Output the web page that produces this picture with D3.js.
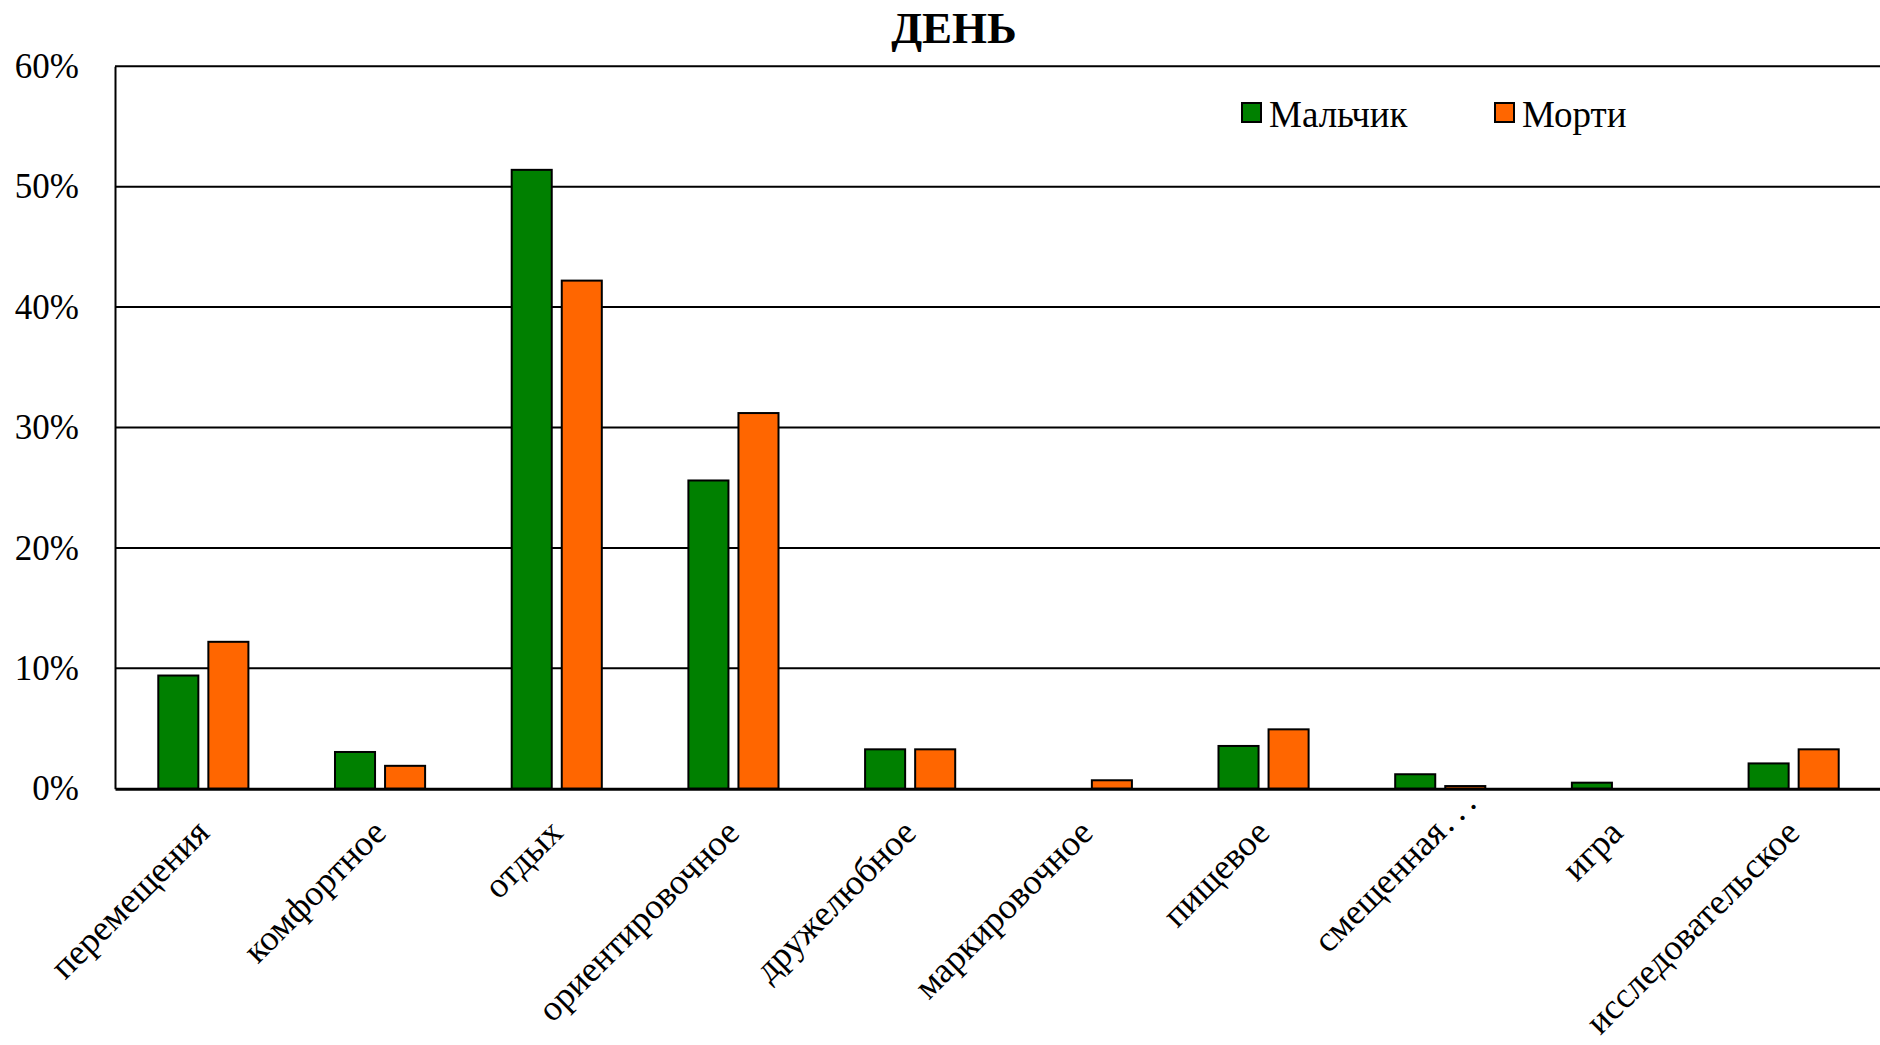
<!DOCTYPE html>
<html>
<head>
<meta charset="utf-8">
<script src="https://cdn.jsdelivr.net/npm/d3@7"></script>
<style>
  html, body { margin: 0; padding: 0; background: #fff; }
  svg { display: block; }
  text { font-family: "Liberation Serif", "Times New Roman", serif; fill: #000; }
</style>
</head>
<body>
<svg id="chart" width="1880" height="1045"></svg>
<script>
// Behaviour categories (daytime observations); a trailing "…" marks a shortened name
const categories = [
  "перемещения", "комфортное", "отдых", "ориентировочное", "дружелюбное",
  "маркировочное", "пищевое", "смещенная…", "игра", "исследовательское"
];
const seriesNames = ["Мальчик", "Морти"];
// Share of time per category, %
const boyValues   = [9.4, 3.05, 51.4, 25.6, 3.27, 0, 3.55, 1.2, 0.5, 2.1];
const mortyValues = [12.2, 1.9, 42.2, 31.2, 3.27, 0.7, 4.93, 0.22, 0, 3.27];
const seriesColors = ["#008000", "#FF6600"];
const yTicks = [0, 10, 20, 30, 40, 50, 60];
const title = "ДЕНЬ";

const svg = d3.select("#chart");
const plot = { left: 115, right: 1882, top: 66.3, bottom: 788.7 };

const x0 = d3.scaleBand().domain(categories).range([plot.left, plot.right])
  .paddingInner(0.49).paddingOuter(0.245);
const x1 = d3.scaleBand().domain(seriesNames).range([0, x0.bandwidth()])
  .paddingInner(0.2).paddingOuter(0);
const y = d3.scaleLinear().domain([0, 60]).range([plot.bottom, plot.top]);

// horizontal gridlines
svg.append("g").selectAll("line").data(yTicks.filter(t => t > 0)).join("line")
  .attr("x1", plot.left).attr("x2", plot.right)
  .attr("y1", d => y(d)).attr("y2", d => y(d))
  .attr("stroke", "#000").attr("stroke-width", 2);

// y axis
const yAxis = d3.axisLeft(y).tickValues(yTicks).tickSize(0).tickPadding(36)
  .tickFormat(d => d + "%");
const gy = svg.append("g").attr("transform", `translate(${plot.left},0)`).call(yAxis);
gy.select(".domain").attr("stroke", "#000").attr("stroke-width", 2);
gy.selectAll("text").attr("font-size", 35)
  .style("font-family", '"Liberation Serif", serif').attr("fill", "#000");

// bars
const rows = categories.map((c, i) => ({ cat: c, vals: [boyValues[i], mortyValues[i]] }));
const groups = svg.append("g").selectAll("g").data(rows).join("g")
  .attr("transform", d => `translate(${x0(d.cat)},0)`);
groups.selectAll("rect")
  .data(d => d.vals.map((v, k) => ({ name: seriesNames[k], v, k })).filter(e => e.v > 0))
  .join("rect")
  .attr("x", d => x1(d.name))
  .attr("width", x1.bandwidth())
  .attr("y", d => y(d.v))
  .attr("height", d => y(0) - y(d.v))
  .attr("fill", d => seriesColors[d.k])
  .attr("stroke", "#000").attr("stroke-width", 2);

// x axis with slanted category labels
const xAxis = d3.axisBottom(x0).tickSize(0).tickPadding(0);
const gx = svg.append("g").attr("transform", `translate(0,${plot.bottom})`).call(xAxis);
gx.select(".domain").attr("stroke", "#000").attr("stroke-width", 3);
gx.selectAll("text")
  .attr("font-size", 36)
  .style("font-family", '"Liberation Serif", serif')
  .attr("fill", "#000")
  .attr("text-anchor", "end")
  .attr("dy", "0.35em")
  .attr("transform", "translate(-1,37) rotate(-45)")
  .each(function (d) {
    // shortened names: the word ends at the anchor, the dots run past it
    if (!d.endsWith("…")) return;
    const t = d3.select(this).text(null);
    t.append("tspan").text(d.slice(0, -1));
    t.append("tspan").attr("x", 2).attr("text-anchor", "start")
      .attr("letter-spacing", "0.18em").text("...");
  });

// title
svg.append("text").attr("x", 954).attr("y", 43)
  .attr("text-anchor", "middle").attr("font-size", 45).attr("font-weight", "bold")
  .text(title);

// legend
const legendX = [1242, 1495];
const lg = svg.append("g").selectAll("g").data(seriesNames).join("g")
  .attr("transform", (d, i) => `translate(${legendX[i]},103)`);
lg.append("rect").attr("width", 19).attr("height", 19)
  .attr("fill", (d, i) => seriesColors[i]).attr("stroke", "#000").attr("stroke-width", 2);
lg.append("text").attr("x", 27).attr("y", 11).attr("dy", "0.35em")
  .attr("font-size", 37).text(d => d);
</script>
</body>
</html>
